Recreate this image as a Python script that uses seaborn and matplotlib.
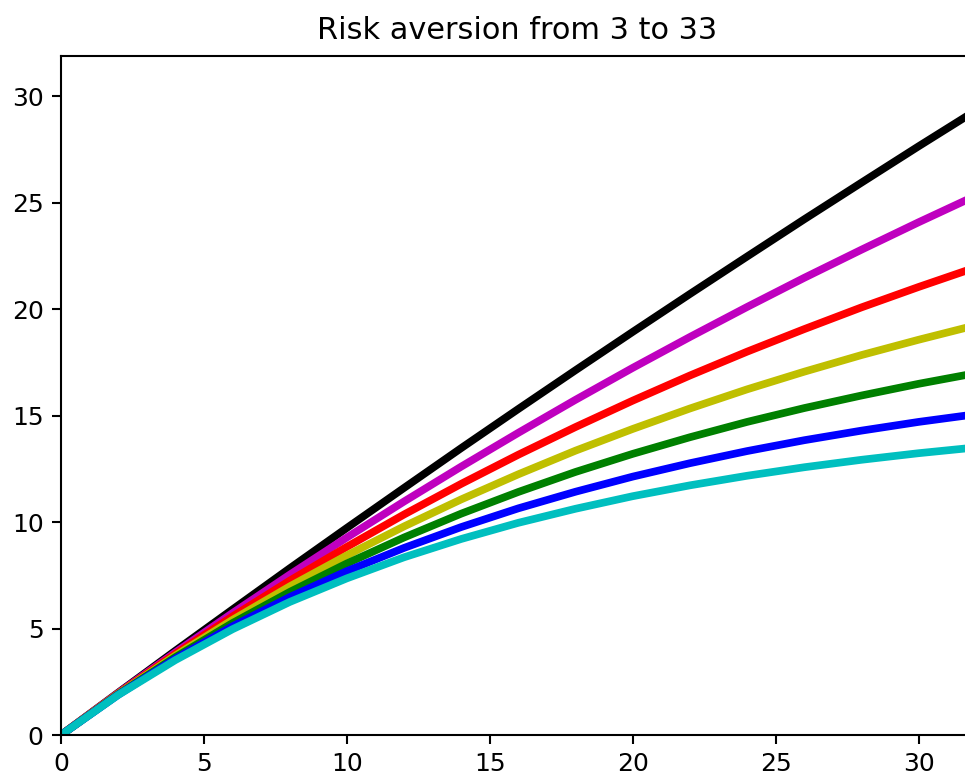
import matplotlib
matplotlib.use("Agg")
import matplotlib.pyplot as plt
import seaborn as sns
import pandas as pd

# ---- data ----
x_values = [0, 2, 4, 6, 8, 10, 12, 14, 16, 18, 20, 22, 24, 26, 28, 30, 32]

curve_3 = [0, 1.99, 3.96, 5.90, 7.83, 9.73, 11.61, 13.48, 15.32, 17.14, 18.94,
           20.72, 22.48, 24.23, 25.95, 27.66, 29.34]
curve_8 = [0, 1.97, 3.88, 5.73, 7.53, 9.28, 10.97, 12.61, 14.20, 15.75, 17.25,
           18.70, 20.11, 21.48, 22.80, 24.09, 25.34]
curve_13 = [0, 1.95, 3.81, 5.57, 7.25, 8.84, 10.36, 11.80, 13.17, 14.47, 15.71,
            16.89, 18.01, 19.07, 20.09, 21.05, 21.97]
curve_18 = [0, 1.93, 3.73, 5.41, 6.98, 8.44, 9.80, 11.07, 12.25, 13.36, 14.38,
            15.34, 16.24, 17.07, 17.85, 18.57, 19.25]
curve_23 = [0, 1.91, 3.66, 5.26, 6.72, 8.06, 9.28, 10.40, 11.42, 12.36, 13.21,
            13.99, 14.71, 15.36, 15.95, 16.50, 17.00]
curve_28 = [0, 1.89, 3.59, 5.11, 6.48, 7.70, 8.79, 9.77, 10.65, 11.43, 12.14,
            12.77, 13.34, 13.85, 14.30, 14.71, 15.07]
curve_33 = [0, 1.88, 3.52, 4.97, 6.25, 7.36, 8.35, 9.21, 9.97, 10.63, 11.22,
            11.73, 12.18, 12.58, 12.93, 13.24, 13.51]

risk_levels = ["3", "8", "13", "18", "23", "28", "33"]
line_colors = ["k", "m", "r", "y", "g", "b", "c"]
title_text = "Risk aversion from 3 to 33"

series = [curve_3, curve_8, curve_13, curve_18, curve_23, curve_28, curve_33]

rows = []
for level, vals in zip(risk_levels, series):
    for xv, yv in zip(x_values, vals):
        rows.append({"x": xv, "y": yv, "risk": level})
df = pd.DataFrame(rows)

fig = plt.figure(figsize=(965 / 150, 775 / 150), dpi=150)
ax = fig.add_axes([0.0632, 0.0516, 0.945, 0.8761])

sns.lineplot(data=df, x="x", y="y", hue="risk", hue_order=risk_levels,
             palette=dict(zip(risk_levels, line_colors)), linewidth=3.7,
             sort=False, legend=False, ax=ax, estimator=None)

ax.set_xlim(0, 31.9)
ax.set_ylim(0, 31.9)
ax.set_xticks([0, 5, 10, 15, 20, 25, 30])
ax.set_yticks([0, 5, 10, 15, 20, 25, 30])
ax.set_xlabel("")
ax.set_ylabel("")
ax.set_title(title_text, fontsize=14.6, pad=8)
ax.tick_params(labelsize=12, length=4.3, width=1.0, pad=4)
for sp in ax.spines.values():
    sp.set_linewidth(1.0)

fig.savefig("out.png", dpi=150)
